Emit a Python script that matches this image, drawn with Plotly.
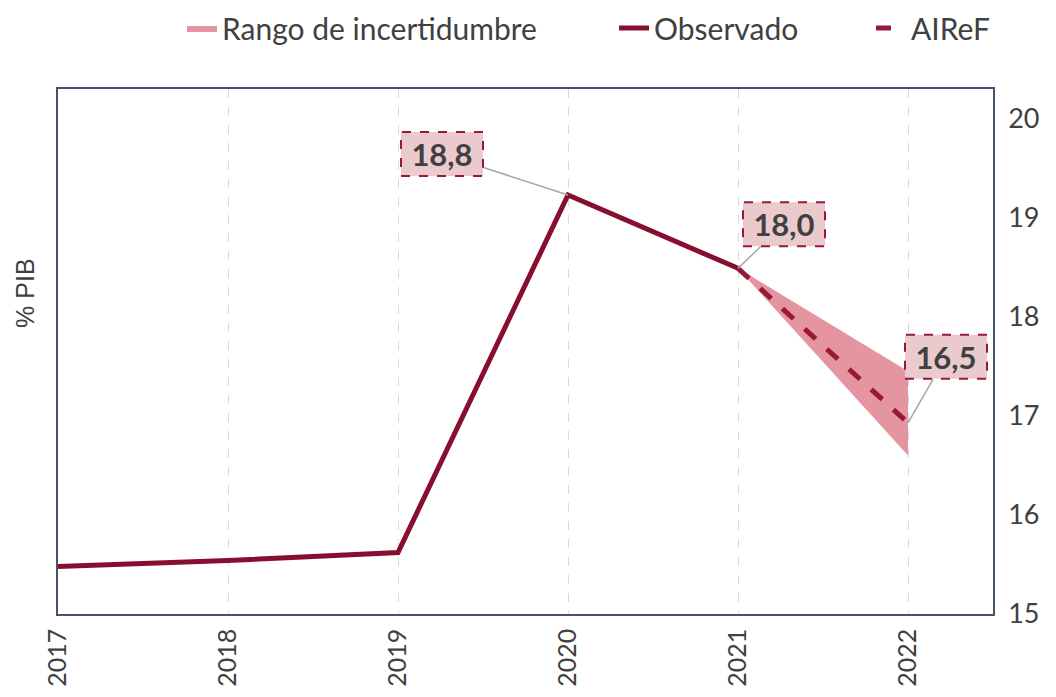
import plotly.graph_objects as go

years = [2017, 2018, 2019, 2020, 2021, 2022]
obs_years = [2017, 2018, 2019, 2020, 2021]
obs_vals = [15.48, 15.54, 15.62, 19.23, 18.49]
airef_years = [2021, 2022]
airef_vals = [18.49, 16.93]
band_years = [2021, 2022]
band_low = [18.49, 16.60]
band_high = [18.49, 17.45]
y_ticks = [15, 16, 17, 18, 19, 20]
labels = [("18,8", 2020, 19.23, -126, -41),
          ("18,0", 2021, 18.49, 46, -44),
          ("16,5", 2022, 16.93, 38, -66)]

MAROON = "#870E2F"
DASHRED = "#97193A"
BAND = "#E4959F"
TXT = "#404040"
FONT = "Lato"

fig = go.Figure()
fig.add_trace(go.Scatter(
    x=band_years + band_years[::-1], y=band_high + band_low[::-1],
    fill="toself", fillcolor=BAND, line=dict(width=0, color=BAND),
    mode="lines", name="Rango de incertidumbre", hoverinfo="skip", legend="legend"))
fig.add_trace(go.Scatter(x=obs_years, y=obs_vals, mode="lines",
                         line=dict(color=MAROON, width=5), name="Observado", legend="legend2"))
fig.add_trace(go.Scatter(x=airef_years, y=airef_vals, mode="lines",
                         line=dict(color=DASHRED, width=5, dash="dash"), name="AIReF",
                         legend="legend3"))

W, H = 82, 44
shapes = []
annotations = []
for txt, xv, yv, ax, ay in labels:
    cx, cy = ax, -ay  # pixel offsets, y up
    shapes.append(dict(type="rect", xref="x", yref="y", xsizemode="pixel", ysizemode="pixel",
                       xanchor=xv, yanchor=yv,
                       x0=cx - W / 2, x1=cx + W / 2, y0=cy - H / 2, y1=cy + H / 2,
                       fillcolor="#EBCACE", line=dict(color=DASHRED, width=2, dash="dash"),
                       layer="above"))
    annotations.append(dict(x=xv, y=yv, xref="x", yref="y", text="<b>%s</b>" % txt,
                            showarrow=True, arrowhead=0, arrowwidth=1.5, arrowcolor="#A6A6A6",
                            ax=ax, ay=ay, width=W, height=H, borderpad=0,
                            font=dict(family=FONT, size=31, color=TXT)))

annotations.append(dict(text="% PIB", xref="paper", yref="paper", x=-0.018, y=0.61,
                        xanchor="right", yanchor="middle", textangle=-90, showarrow=False,
                        font=dict(family="Liberation Sans", size=25, color=TXT)))

leg_common = dict(orientation="h", yref="container", y=0.971, yanchor="middle",
                  xanchor="left", font=dict(family=FONT, size=30, color=TXT),
                  bgcolor="rgba(0,0,0,0)")

fig.update_layout(
    width=1049, height=690,
    margin=dict(l=50, r=64, t=81, b=84, autoexpand=False),
    plot_bgcolor="white", paper_bgcolor="white",
    showlegend=True,
    legend=dict(leg_common, x=0.1326),
    legend2=dict(leg_common, x=0.5947),
    legend3=dict(leg_common, x=0.8695),
    shapes=shapes, annotations=annotations,
    xaxis=dict(range=[2017, 2022.5], tickvals=years, ticktext=[str(y) for y in years],
               tickangle=-90, showgrid=True, gridcolor="#D9D9D9", griddash="dash", gridwidth=1.2,
               showline=True, linecolor="#44546A", linewidth=1.5, mirror=True,
               zeroline=False, ticks="", ticklabelstandoff=3, automargin=False,
               tickfont=dict(family=FONT, size=25, color=TXT)),
    yaxis=dict(range=[15, 20.3], tickvals=y_ticks, side="right", showgrid=False,
               showline=True, linecolor="#44546A", linewidth=1.5, mirror=True,
               zeroline=False, ticks="", ticklabelstandoff=8, automargin=False,
               tickfont=dict(family=FONT, size=27, color=TXT)),
)

fig.write_html("out.html")
